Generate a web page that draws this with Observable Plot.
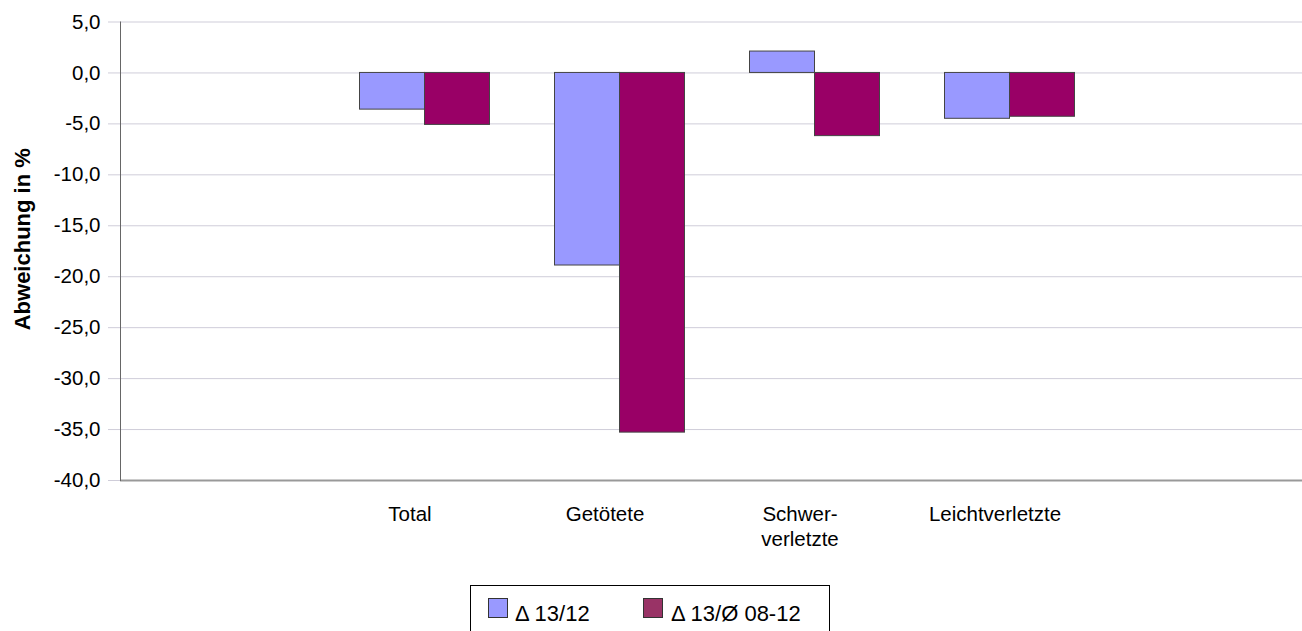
<!DOCTYPE html>
<html>
<head>
<meta charset="utf-8">
<script src="https://cdn.jsdelivr.net/npm/d3@7"></script>
<script src="https://cdn.jsdelivr.net/npm/@observablehq/plot@0.6"></script>
<style>
  body { margin: 0; background: #fff; font-family: "Liberation Sans", Arial, sans-serif; }
  #wrap { position: relative; width: 1302px; height: 631px; overflow: hidden; background: #fff; }
  #chart svg { display: block; }
  #legend { position: absolute; left: 470px; top: 585px; width: 360px; height: 70px;
            border: 1px solid #000; box-sizing: border-box; background: #fff; }
  #legend .sw { position: absolute; top: 12px; width: 20px; height: 20px; box-sizing: border-box; border: 1px solid #333; }
  #legend .lt { position: absolute; top: 17px; font-size: 22px; line-height: 22px; color: #000; white-space: nowrap; }
</style>
</head>
<body>
<div id="wrap">
  <div id="chart"></div>
  <div id="legend"></div>
</div>
<script>
// ---- data ----
const categories = ["Total", "Getötete", "Schwer-\nverletzte", "Leichtverletzte"];
const seriesNames = ["Δ 13/12", "Δ 13/Ø 08-12"];
const delta1312 = [-3.6, -18.9, 2.1, -4.5];
const delta13avg = [-5.1, -35.3, -6.2, -4.3];
const yTicks = [5, 0, -5, -10, -15, -20, -25, -30, -35, -40];
const yTitle = "Abweichung in %";

// ---- styles ----
const colors = ["#9999ff", "#990066"];
const legendColors = ["#9999ff", "#993366"];
const gridColor = "#cfcdd9";

const rows = categories.map((c, i) => ({cat: c, a: delta1312[i], b: delta13avg[i]}));
const locale = d3.formatLocale({decimal: ",", thousands: ".", grouping: [3], currency: ["", "€"], minus: "-"});
const fmt = locale.format(".1f");

const chart = Plot.plot({
  width: 1302,
  height: 570,
  marginLeft: 120,
  marginRight: 0,
  marginTop: 21.5,
  marginBottom: 90,
  style: {fontFamily: '"Liberation Sans", Arial, sans-serif', fontSize: "20.5px", color: "#000", background: "#fff"},
  x: {domain: categories, range: [326.5, 1106.5], padding: 0, axis: null},
  y: {domain: [-40, 5], axis: null},
  marks: [
    Plot.ruleY(yTicks, {stroke: gridColor, strokeWidth: 1}),
    Plot.axisY({ticks: yTicks, tickFormat: fmt, tickSize: 12, tickPadding: 8, stroke: gridColor, fill: "#000", label: null, fontSize: 20.5}),
    Plot.barY(rows, {x: "cat", y: "a", fill: colors[0], stroke: "#444", strokeWidth: 1, insetLeft: 32.5, insetRight: 97.5}),
    Plot.barY(rows, {x: "cat", y: "b", fill: colors[1], stroke: "#444", strokeWidth: 1, insetLeft: 97.5, insetRight: 32.5}),
    Plot.ruleY([-40], {stroke: "#999", strokeWidth: 2}),
    Plot.frame({anchor: "left", stroke: "#666", strokeWidth: 1}),
    Plot.text(categories, {x: d => d, frameAnchor: "bottom", lineAnchor: "top", dy: 23, dx: -15, lineHeight: 1.22, fontSize: 20.5, fill: "#000"}),
    Plot.text([yTitle], {frameAnchor: "left", textAnchor: "middle", rotate: -90, dx: -98, dy: -12, fontWeight: "bold", fontSize: 22, fill: "#000"})
  ]
});
document.getElementById("chart").appendChild(chart);

// ---- legend ----
const legend = document.getElementById("legend");
const swLeft = [17, 172];
const txtLeft = [44, 200];
seriesNames.forEach((name, i) => {
  const sw = document.createElement("span");
  sw.className = "sw";
  sw.style.left = swLeft[i] + "px";
  sw.style.background = legendColors[i];
  legend.appendChild(sw);
  const t = document.createElement("span");
  t.className = "lt";
  t.style.left = txtLeft[i] + "px";
  t.textContent = name;
  legend.appendChild(t);
});
</script>
</body>
</html>
